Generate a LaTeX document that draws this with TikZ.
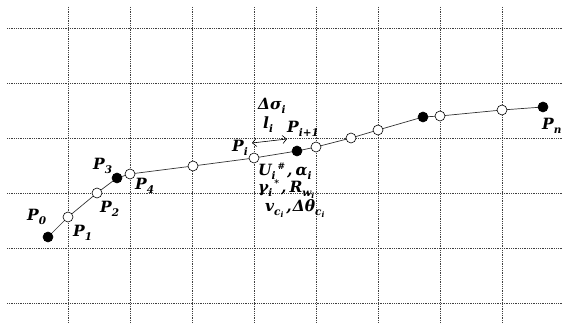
\documentclass[tikz,border=0pt]{standalone}
\usepackage{fontspec}
\setmainfont{DejaVu Serif}
\usetikzlibrary{arrows.meta}
\newcommand\sbx[1]{\raisebox{-3.5pt}{\fontsize{10.5}{11}\selectfont #1}}
\newcommand\sbb[1]{\raisebox{-2pt}{\fontsize{7.5}{8}\selectfont #1}}
\newcommand\spx[1]{\raisebox{6pt}{\fontsize{9}{10}\selectfont #1}}
\tikzset{
  gridline/.style={densely dotted, line width=0.8pt, black!75},
  opent/.style={circle, draw=black, fill=white, line width=0.6pt, minimum size=10pt, inner sep=0pt},
  fullt/.style={circle, draw=black, fill=black, line width=0.6pt, minimum size=10pt, inner sep=0pt},
  seg/.style={line width=0.7pt, black!80},
  lab/.style={font=\fontsize{15.5}{17}\selectfont\bfseries\itshape, inner sep=0pt, anchor=base west},
}
\begin{document}
\begin{tikzpicture}[x=1pt,y=-1pt]
\useasboundingbox (0,0) rectangle (563,323);
% grid
\foreach \x in {68,130,192,254,316,378,440,502} \draw[gridline] (\x,7) -- (\x,323);
\foreach \y in {28,83,138,193,248,303} \draw[gridline] (7,\y) -- (563,\y);
% points
\coordinate (c0) at (48,237);
\coordinate (c1) at (68,217);
\coordinate (c2) at (97,193);
\coordinate (c3) at (117,178);
\coordinate (c4) at (130,174);
\coordinate (c5) at (193,166);
\coordinate (c6) at (254,158);
\coordinate (c7) at (297,151);
\coordinate (c8) at (316,147);
\coordinate (c9) at (351,138);
\coordinate (c10) at (378,130);
\coordinate (c11) at (423,117);
\coordinate (c12) at (440,116);
\coordinate (c13) at (502,110);
\coordinate (c14) at (543,107);
\draw[seg] (c0) -- (c1) -- (c2) -- (c3) -- (c4) -- (c5) -- (c6) -- (c7) -- (c8) -- (c9) -- (c10) -- (c11) -- (c12) -- (c13) -- (c14);
\node[fullt] (p0) at (c0) {};
\node[opent] (p1) at (c1) {};
\node[opent] (p2) at (c2) {};
\node[fullt] (p3) at (c3) {};
\node[opent] (p4) at (c4) {};
\node[opent] (p5) at (c5) {};
\node[opent] (p6) at (c6) {};
\node[fullt] (p7) at (c7) {};
\node[opent] (p8) at (c8) {};
\node[opent] (p9) at (c9) {};
\node[opent] (p10) at (c10) {};
\node[fullt] (p11) at (c11) {};
\node[opent] (p12) at (c12) {};
\node[opent] (p13) at (c13) {};
\node[fullt] (p14) at (c14) {};
% labels
\node[lab] (l0) at (27,221) {P\sbx{0}};
\node[lab] (l1) at (73,237) {P\sbx{1}};
\node[lab] (l2) at (100,213) {P\sbx{2}};
\node[lab] (l3) at (93,170) {P\sbx{3}};
\node[lab] (l4) at (135,190) {P\sbx{4}};
\node[lab] (li0) at (232,152) {P\sbx{i}};
\node[lab] (lli) at (263,129) {l\sbx{i}};
\node[lab] (lip) at (287,133) {P\sbx{i+1}};
\node[lab] (lds) at (258,110) {Δσ\sbx{i}};
\node[lab] (lu) at (258,176) {U\sbx{i}\kern2pt\spx{\#}\kern2pt,\kern3ptα\sbx{i}};
\node[lab] (lg) at (258,193) {γ\sbx{i}\kern2pt\spx{*}\kern2pt,\kern3ptR\sbx{w\sbb{i}}};
\node[lab] (lv) at (265,212) {v\sbx{c\sbb{i}}\kern3pt,\kern1ptΔθ\sbx{c\sbb{i}}};
\node[lab] (ln) at (542,130) {P\sbx{n}};
\coordinate (a1) at (252,143);
\coordinate (a2) at (287,139);
\draw[{Straight Barb[length=4pt]}-{Straight Barb[length=4pt]}, line width=0.6pt] (a1) -- (a2);
\end{tikzpicture}
\end{document}
